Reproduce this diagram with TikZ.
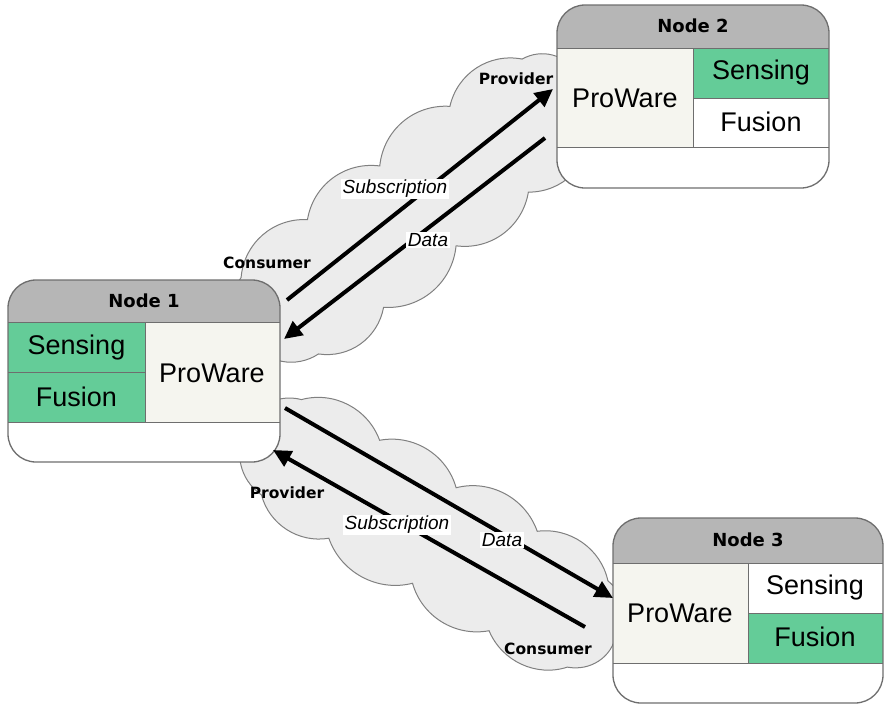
\documentclass[tikz,border=0pt]{standalone}
\usepackage{fontspec}
\setmainfont{Liberation Sans}
\newfontfamily\verdana{DejaVu Sans}
\usetikzlibrary{arrows.meta}
\definecolor{cellgreen}{RGB}{100,204,152}
\definecolor{hdrgray}{RGB}{182,182,182}
\definecolor{pwfill}{RGB}{245,245,239}
\definecolor{cloudfill}{RGB}{236,236,236}
\definecolor{cloudline}{RGB}{128,128,128}
\definecolor{boxline}{RGB}{110,110,110}
\tikzset{
  cloudshape/.style={draw=cloudline, fill=cloudfill, line width=1pt},
  celltext/.style={font=\fontsize{27}{27}\selectfont, text=black, inner sep=0pt},
  hdrtext/.style={font=\verdana\bfseries\fontsize{18}{18}\selectfont, inner sep=0pt},
  roletext/.style={font=\verdana\bfseries\fontsize{15.5}{16}\selectfont, inner sep=0pt},
  msgtext/.style={font=\itshape\fontsize{19}{19}\selectfont, fill=white, inner sep=1.5pt},
  flow/.style={line width=4pt, -{Triangle[length=18pt,width=17pt]}},
  gridline/.style={boxline, line width=1pt},
  outline/.style={boxline, line width=1.3pt, rounded corners=28pt},
}
\newcommand\cloudoutline{%
  \draw[cloudshape] (212,-5)
  \foreach \px/\py in {186/50,100/58,10/55,-85/58,-165/54,-210/2,-178/-54,-90/-58,0/-55,92/-58,178/-50}
    { to[bend left=44] (\px,\py) }
  to[bend left=44] (212,-5) -- cycle;}
\begin{document}
\begin{tikzpicture}[x=1pt,y=-1pt]
\useasboundingbox (0,0) rectangle (884,705);
% clouds
\begin{scope}[shift={(414,209)}, rotate=38.5]
\cloudoutline
\end{scope}
\begin{scope}[shift={(430,533)}, rotate=-30, yscale=0.95]
\cloudoutline
\end{scope}
% Node 1
\begin{scope}
\clip[rounded corners=28pt] (8,280) rectangle (280,462);
\fill[white] (8,280) rectangle (280,462);
\fill[hdrgray] (8,280) rectangle (280,322);
\fill[cellgreen] (8,322) rectangle (145,422);
\fill[pwfill] (145,322) rectangle (280,422);
\draw[gridline] (8,322) -- (280,322) (8,422) -- (280,422) (145,322) -- (145,422) (8,372) -- (145,372);
\end{scope}
\draw[outline] (8,280) rectangle (280,462);
\node[hdrtext] (n1h) at (144,301) {Node 1};
\node[celltext] (n1s) at (76.5,348) {Sensing};
\node[celltext] (n1f) at (76.5,397) {Fusion};
\node[celltext] (n1p) at (212,373) {ProWare};
% Node 2
\begin{scope}
\clip[rounded corners=28pt] (557,5) rectangle (829,188);
\fill[white] (557,5) rectangle (829,188);
\fill[hdrgray] (557,5) rectangle (829,48);
\fill[pwfill] (557,48) rectangle (693,147);
\fill[cellgreen] (693,48) rectangle (829,98);
\draw[gridline] (557,48) -- (829,48) (557,147) -- (829,147) (693,48) -- (693,147) (693,98) -- (829,98);
\end{scope}
\draw[outline] (557,5) rectangle (829,188);
\node[hdrtext] (n2h) at (693,26) {Node 2};
\node[celltext] (n2p) at (625,98) {ProWare};
\node[celltext] (n2s) at (761,73) {Sensing};
\node[celltext] (n2f) at (761,122) {Fusion};
% Node 3
\begin{scope}
\clip[rounded corners=28pt] (613,518) rectangle (883,703);
\fill[white] (613,518) rectangle (883,703);
\fill[hdrgray] (613,518) rectangle (883,563);
\fill[pwfill] (613,563) rectangle (748,663);
\fill[cellgreen] (748,613) rectangle (883,663);
\draw[gridline] (613,563) -- (883,563) (613,663) -- (883,663) (748,563) -- (748,663) (748,613) -- (883,613);
\end{scope}
\draw[outline] (613,518) rectangle (883,703);
\node[hdrtext] (n3h) at (748,540) {Node 3};
\node[celltext] (n3p) at (680,613) {ProWare};
\node[celltext] (n3s) at (815,588) {Sensing};
\node[celltext] (n3f) at (815,637) {Fusion};
% arrow end points
\coordinate (subA1) at (287,300);
\coordinate (subA2) at (553,89);
\coordinate (datA1) at (545,138);
\coordinate (datA2) at (284,339);
\coordinate (datB1) at (285,408);
\coordinate (datB2) at (613,598);
\coordinate (subB1) at (585,627);
\coordinate (subB2) at (273,450);
\draw[flow] (subA1) -- (subA2);
\draw[flow] (datA1) -- (datA2);
\draw[flow] (datB1) -- (datB2);
\draw[flow] (subB1) -- (subB2);
% labels
\node[msgtext] (lsA) at (395,189) {Subscription};
\node[msgtext] (ldA) at (428,240) {Data};
\node[msgtext] (lsB) at (397,525) {Subscription};
\node[msgtext] (ldB) at (502,540) {Data};
\node[roletext] (rpA) at (516,79) {Provider};
\node[roletext] (rcA) at (267,263) {Consumer};
\node[roletext] (rpB) at (287,493) {Provider};
\node[roletext] (rcB) at (548,649) {Consumer};
\end{tikzpicture}
\end{document}
